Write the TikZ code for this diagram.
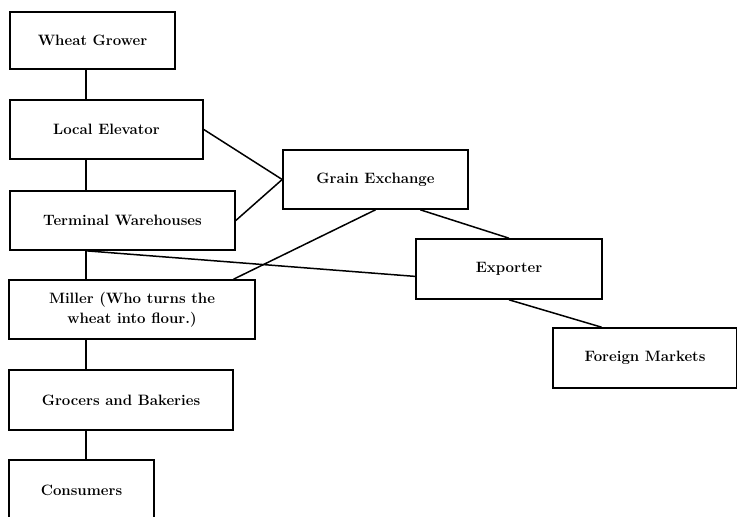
\documentclass[tikz,border=0pt]{standalone}
\usetikzlibrary{calc}
\begin{document}
\begin{tikzpicture}[x=1pt,y=-1pt,
  box/.style={draw=black,line width=1.6pt,inner sep=0pt,minimum height=59pt,
    align=center,font=\fontsize{15}{20}\selectfont\bfseries},
  link/.style={draw=black,line width=1.5pt}]
\useasboundingbox (0,0) rectangle (737,517);
\clip (0,0) rectangle (737,517);
\fill[white] (0,0) rectangle (737,517);
\coordinate (spine) at (86,0);
\node[box,minimum width=165pt,minimum height=57pt] (wheat) at (92.5,40.5) {Wheat Grower};
\node[box,minimum width=193pt] (local) at (106.5,129.5) {Local Elevator};
\node[box,minimum width=225pt] (term) at (122.5,220.5) {Terminal Warehouses};
\node[box,minimum width=246pt] (miller) at (132,309.5) {Miller (Who turns the\\wheat into flour.)};
\node[box,minimum width=224pt,minimum height=60pt] (groc) at (121,400) {Grocers and Bakeries};
\node[box,minimum width=145pt,minimum height=60pt] (cons) at (81.5,490) {Consumers};
\node[box,minimum width=185pt] (grain) at (375.5,179.5) {Grain Exchange};
\node[box,minimum width=186pt,minimum height=60pt] (exp) at (509,269) {Exporter};
\node[box,minimum width=184pt,minimum height=60pt] (fm) at (645,358) {Foreign Markets};
% spine connectors
\draw[link] (wheat.south -| spine) -- (local.north -| spine);
\draw[link] (local.south -| spine) -- (term.north -| spine);
\draw[link] (term.south -| spine) -- (miller.north -| spine);
\draw[link] (miller.south -| spine) -- (groc.north -| spine);
\draw[link] (groc.south -| spine) -- (cons.north -| spine);
% other connectors
\draw[link] (local.east) -- (grain.west);
\draw[link] (term.east) -- (grain.west);
\draw[link] (grain.south) -- ($(miller.north west)!0.91!(miller.north east)$);
\draw[link] ($(grain.south west)!0.74!(grain.south east)$) -- (exp.north);
\draw[link] (term.south -| spine) -- ($(exp.north west)!0.62!(exp.south west)$);
\draw[link] (exp.south) -- ($(fm.north west)!0.266!(fm.north east)$);
\end{tikzpicture}
\end{document}
